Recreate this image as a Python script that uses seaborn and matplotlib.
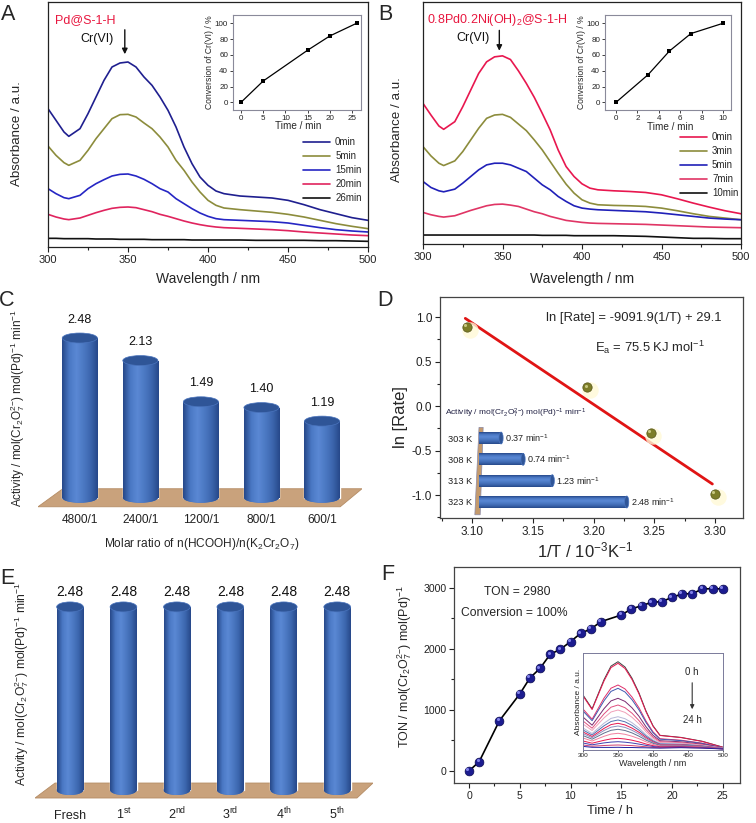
import numpy as np
import matplotlib
matplotlib.use('Agg')
import matplotlib.pyplot as plt
import seaborn as sns
from matplotlib.patches import Ellipse, Polygon
from matplotlib.colors import LinearSegmentedColormap
from matplotlib.ticker import MultipleLocator
from matplotlib.transforms import ScaledTranslation

# ---------------- data ----------------
# UV-vis spectra (A, B) sampled at these wavelengths
wl = [300, 305, 310, 313, 320, 325, 330, 335, 340, 345, 350, 355, 360, 365, 370, 375,
      380, 385, 390, 395, 400, 405, 410, 420, 430, 440, 450, 460, 470, 480, 490, 500]

a_names = ['0min', '5min', '15min', '20min', '26min']
a_colors = ['#1f1f8f', '#8c8c3c', '#2626c4', '#e0245e', '#111111']
a_0 = [4.15, 3.80, 3.45, 3.32, 3.55, 4.00, 4.50, 5.00, 5.40, 5.52, 5.55, 5.40, 5.10, 4.85, 4.50, 4.10,
       3.60, 3.00, 2.50, 2.10, 1.85, 1.68, 1.60, 1.53, 1.50, 1.47, 1.40, 1.27, 1.12, 1.00, 0.88, 0.80]
a_5 = [3.03, 2.75, 2.53, 2.45, 2.60, 2.90, 3.25, 3.55, 3.85, 3.97, 3.98, 3.90, 3.72, 3.55, 3.30, 3.00,
       2.60, 2.30, 1.95, 1.65, 1.40, 1.25, 1.17, 1.12, 1.08, 1.04, 0.98, 0.90, 0.80, 0.70, 0.62, 0.55]
a_15 = [1.75, 1.60, 1.48, 1.45, 1.55, 1.75, 1.90, 2.02, 2.13, 2.18, 2.19, 2.13, 2.03, 1.90, 1.75, 1.65,
        1.45, 1.30, 1.15, 1.02, 0.92, 0.85, 0.82, 0.80, 0.78, 0.76, 0.72, 0.65, 0.58, 0.52, 0.48, 0.45]
a_20 = [0.98, 0.90, 0.84, 0.82, 0.87, 0.95, 1.03, 1.10, 1.16, 1.19, 1.20, 1.18, 1.12, 1.06, 0.98, 0.92,
        0.85, 0.78, 0.72, 0.67, 0.63, 0.60, 0.58, 0.56, 0.54, 0.52, 0.49, 0.45, 0.42, 0.39, 0.36, 0.34]
a_26 = [0.26, 0.26, 0.25, 0.25, 0.25, 0.25, 0.24, 0.24, 0.24, 0.23, 0.23, 0.23, 0.23, 0.22, 0.22, 0.22,
        0.22, 0.22, 0.21, 0.21, 0.21, 0.21, 0.21, 0.21, 0.20, 0.20, 0.20, 0.20, 0.19, 0.19, 0.18, 0.17]
a_curves = [a_0, a_5, a_15, a_20, a_26]

b_names = ['0min', '3min', '5min', '7min', '10min']
b_colors = ['#e8174f', '#8c8c3c', '#2020b8', '#e03565', '#111111']
b_0 = [4.23, 3.88, 3.55, 3.45, 3.68, 4.13, 4.63, 5.13, 5.48, 5.63, 5.66, 5.55, 5.21, 4.83, 4.41, 3.93,
       3.43, 2.83, 2.33, 2.03, 1.81, 1.68, 1.63, 1.60, 1.58, 1.55, 1.48, 1.36, 1.23, 1.11, 1.00, 0.91]
b_3 = [2.93, 2.65, 2.43, 2.36, 2.50, 2.78, 3.13, 3.48, 3.78, 3.88, 3.90, 3.81, 3.61, 3.41, 3.13, 2.83,
       2.48, 2.13, 1.80, 1.53, 1.33, 1.23, 1.18, 1.16, 1.15, 1.13, 1.08, 1.00, 0.91, 0.83, 0.78, 0.73]
b_5 = [1.88, 1.70, 1.60, 1.57, 1.65, 1.83, 2.03, 2.23, 2.38, 2.43, 2.43, 2.38, 2.28, 2.18, 1.98, 1.78,
       1.63, 1.43, 1.28, 1.15, 1.08, 1.05, 1.03, 1.01, 0.99, 0.97, 0.93, 0.88, 0.83, 0.78, 0.75, 0.73]
b_7 = [0.95, 0.88, 0.83, 0.81, 0.85, 0.93, 1.01, 1.08, 1.15, 1.19, 1.20, 1.17, 1.13, 1.05, 0.97, 0.91,
       0.83, 0.77, 0.71, 0.68, 0.65, 0.63, 0.62, 0.61, 0.60, 0.59, 0.57, 0.55, 0.53, 0.51, 0.50, 0.49]
b_10 = [0.27, 0.27, 0.27, 0.27, 0.27, 0.27, 0.27, 0.27, 0.27, 0.27, 0.27, 0.27, 0.27, 0.27, 0.27, 0.26,
        0.26, 0.26, 0.26, 0.25, 0.25, 0.25, 0.25, 0.25, 0.24, 0.23, 0.21, 0.19, 0.17, 0.17, 0.16, 0.16]
b_curves = [b_0, b_3, b_5, b_7, b_10]

# conversion insets
insA_t = [0, 5, 15, 20, 26]
insA_c = [0, 27, 66, 84, 100]
insB_t = [0, 3, 5, 7, 10]
insB_c = [0, 35, 65, 87, 100]

# C: activity vs molar ratio
ratio_labels = ['4800/1', '2400/1', '1200/1', '800/1', '600/1']
ratio_vals = [2.48, 2.13, 1.49, 1.40, 1.19]

# D: Arrhenius plot
inv_T = [3.096, 3.195, 3.247, 3.300]
ln_rate = [0.89, 0.21, -0.30, -0.99]
fit_x = [3.0945, 3.2978]
fit_y = [0.985, -0.876]
temp_labels = ['303 K', '308 K', '313 K', '323 K']
temp_rates = [0.37, 0.74, 1.23, 2.48]

# E: recycling
cycle_labels = ['Fresh', '1$^{\\mathrm{st}}$', '2$^{\\mathrm{nd}}$', '3$^{\\mathrm{rd}}$',
                '4$^{\\mathrm{th}}$', '5$^{\\mathrm{th}}$']
cycle_vals = [2.48, 2.48, 2.48, 2.48, 2.48, 2.48]

# F: TON vs time
ton_t = [0, 1, 3, 5, 6, 7, 8, 9, 10, 11, 12, 13, 15, 16, 17, 18, 19, 20, 21, 22, 23, 24, 25]
ton_v = [0, 153, 825, 1262, 1525, 1683, 1913, 1995, 2120, 2257, 2328, 2448, 2557, 2656, 2710,
         2765, 2776, 2847, 2902, 2907, 2984, 2989, 2984]

# F inset spectra (0 h -> 24 h)
fi_wl = [300, 313, 330, 340, 350, 360, 370, 380, 390, 400, 410, 440, 470, 500]
fi_curves = [
    [5.50, 4.12, 7.03, 8.39, 8.83, 8.30, 7.18, 5.71, 3.90, 2.43, 1.47, 1.26, 0.88, 0.28],
    [5.40, 4.05, 6.90, 8.24, 8.67, 8.15, 7.05, 5.61, 3.83, 2.38, 1.45, 1.24, 0.86, 0.27],
    [4.10, 3.08, 5.19, 6.18, 6.50, 6.11, 5.30, 4.22, 2.90, 1.82, 1.13, 0.98, 0.69, 0.23],
    [3.90, 2.93, 4.92, 5.86, 6.17, 5.80, 5.03, 4.01, 2.75, 1.73, 1.08, 0.94, 0.66, 0.22],
    [3.30, 2.48, 4.13, 4.91, 5.17, 4.86, 4.22, 3.37, 2.32, 1.47, 0.93, 0.82, 0.58, 0.20],
    [2.90, 2.18, 3.61, 4.28, 4.50, 4.23, 3.68, 2.94, 2.04, 1.30, 0.83, 0.74, 0.53, 0.19],
    [2.60, 1.95, 3.21, 3.80, 4.00, 3.76, 3.27, 2.62, 1.82, 1.17, 0.75, 0.68, 0.49, 0.18],
    [2.20, 1.65, 2.68, 3.16, 3.33, 3.13, 2.73, 2.19, 1.53, 1.00, 0.65, 0.60, 0.44, 0.17],
    [2.00, 1.50, 2.42, 2.85, 3.00, 2.82, 2.46, 1.98, 1.39, 0.91, 0.60, 0.56, 0.41, 0.16],
    [1.80, 1.35, 2.16, 2.54, 2.67, 2.51, 2.19, 1.77, 1.25, 0.82, 0.55, 0.52, 0.38, 0.15],
    [1.64, 1.23, 1.95, 2.28, 2.40, 2.26, 1.97, 1.60, 1.13, 0.75, 0.51, 0.49, 0.36, 0.15],
    [1.44, 1.08, 1.69, 1.97, 2.07, 1.95, 1.71, 1.38, 0.99, 0.67, 0.46, 0.45, 0.34, 0.14],
    [1.20, 0.90, 1.37, 1.59, 1.67, 1.57, 1.38, 1.13, 0.82, 0.56, 0.40, 0.40, 0.30, 0.13],
    [0.90, 0.68, 0.97, 1.11, 1.17, 1.10, 0.98, 0.81, 0.60, 0.43, 0.33, 0.34, 0.26, 0.12],
    [0.70, 0.52, 0.71, 0.79, 0.83, 0.78, 0.70, 0.59, 0.46, 0.35, 0.27, 0.30, 0.24, 0.12],
    [0.50, 0.38, 0.45, 0.48, 0.50, 0.47, 0.44, 0.38, 0.32, 0.26, 0.23, 0.26, 0.21, 0.11],
    [0.36, 0.27, 0.26, 0.26, 0.27, 0.25, 0.25, 0.23, 0.22, 0.20, 0.19, 0.23, 0.19, 0.10],
]
fi_colors = ['#404040', '#e8174f', '#e0306a', '#4058b0', '#7a2a70', '#e05080', '#f0a0b8',
             '#b8b8d8', '#5070b0', '#e8174f', '#9090c0', '#607090', '#f080a0', '#e8174f',
             '#4040b0', '#d04070', '#2020a0']

# ---------------- style ----------------
sns.set_theme(style='ticks')
plt.rcParams['font.family'] = ['Liberation Sans', 'DejaVu Sans']
plt.rcParams['mathtext.fontset'] = 'custom'
plt.rcParams['mathtext.rm'] = 'Liberation Sans'
plt.rcParams['mathtext.it'] = 'Liberation Sans:italic'
plt.rcParams['mathtext.bf'] = 'Liberation Sans:bold'
plt.rcParams['axes.unicode_minus'] = False
plt.rcParams['axes.edgecolor'] = '#222222'
plt.rcParams['axes.linewidth'] = 0.9
plt.rcParams['xtick.color'] = '#222222'
plt.rcParams['ytick.color'] = '#222222'

ACT = 'Activity / mol(Cr$_2$O$_7^{2{-}}$) mol(Pd)$^{-1}$ min$^{-1}$'

fig = plt.figure(figsize=(7.56, 8.23), dpi=100)


def frac(l, t, r, b):
    # pixel box -> figure fraction
    return [l / 756, 1 - b / 823, (r - l) / 756, (b - t) / 823]


cyl_cmap = LinearSegmentedColormap.from_list(
    'cyl', ['#27498a', '#4a78c4', '#5a88d4', '#4c79c3', '#3c66ae', '#27498a'])
grad = np.linspace(0, 1, 64).reshape(1, -1)


def cylinders(ax, bars, cap, horizontal=False):
    for bar in bars:
        if horizontal:
            y0, h, v = bar.get_y(), bar.get_height(), bar.get_width()
            im = ax.imshow(grad.T, extent=(0, v, y0 + h, y0), cmap=cyl_cmap, aspect='auto', zorder=2)
            im.set_clip_path(bar)
            ax.add_patch(Ellipse((v, y0 + h / 2), cap, h, facecolor='#2f5597',
                                 edgecolor='#4a74bd', lw=0.5, zorder=3))
        else:
            x0, w, v = bar.get_x(), bar.get_width(), bar.get_height()
            cx = x0 + w / 2
            bottom = Ellipse((cx, 0), w, cap, facecolor='#4672bc', edgecolor='none', zorder=1.5)
            ax.add_patch(bottom)
            for clip in (bar, bottom):
                im = ax.imshow(grad, extent=(x0, x0 + w, -cap / 2, v), cmap=cyl_cmap,
                               aspect='auto', zorder=2)
                im.set_clip_path(clip)
            ax.add_patch(Ellipse((cx, v), w, cap, facecolor='#2f5597',
                                 edgecolor='#4a74bd', lw=0.5, zorder=3))


def spectra(ax, curves, names, colors, ytop):
    for vals, name, c in zip(curves, names, colors):
        sns.lineplot(x=wl, y=vals, color=c, lw=1.2, label=name, ax=ax)
    ax.set_xlim(300, 500)
    ax.set_ylim(0, ytop)
    ax.set_yticks([])
    ax.xaxis.set_major_locator(MultipleLocator(50))
    ax.xaxis.set_minor_locator(MultipleLocator(25))
    ax.tick_params(axis='x', which='major', length=3.5, width=0.8, labelsize=8, pad=2)
    ax.tick_params(axis='x', which='minor', length=2, width=0.8)
    ax.set_xlabel('Wavelength / nm', fontsize=10)
    ax.set_ylabel('Absorbance / a.u.', fontsize=9.6)


def conv_inset(ax, t, c, xlim, step):
    sns.lineplot(x=t, y=c, color='black', lw=0.9, marker='s', markersize=3,
                 markeredgewidth=0, ax=ax)
    ax.set_xlim(*xlim)
    ax.set_ylim(-9.7, 110.5)
    ax.xaxis.set_major_locator(MultipleLocator(step))
    ax.yaxis.set_major_locator(MultipleLocator(20))
    ax.tick_params(labelsize=5.8, length=2, width=0.6, pad=1.5)
    for s in ax.spines.values():
        s.set_color('#8a8a9a')
        s.set_linewidth(0.8)
    ax.set_xlabel('Time / min', fontsize=7.2, labelpad=0)
    ax.set_ylabel('Conversion of Cr(VI) / %', fontsize=6.2, labelpad=1)


# ---------------- A ----------------
axA = fig.add_axes(frac(48, 2, 368, 247))
spectra(axA, a_curves, a_names, a_colors, 7.35)
axA.legend(loc='upper left', bbox_to_anchor=(0.797, 0.449), frameon=False, fontsize=7,
           handlelength=2.8, handletextpad=0.5, labelspacing=0.42, borderpad=0, borderaxespad=0)
axA.yaxis.set_label_coords(-0.078, 0.465)
axA.xaxis.set_label_coords(0.5, -0.10)
axA.text(323, 6.8, 'Pd@S-1-H', color='#e8173f', fontsize=9, ha='center', va='center')
axA.text(341, 6.25, 'Cr(VI)', color='#111111', fontsize=9, ha='right', va='center')
axA.annotate('', xy=(348, 5.7), xytext=(348, 6.6),
             arrowprops=dict(arrowstyle='-|>', color='#111111', lw=1, mutation_scale=8))

insA = fig.add_axes(frac(233, 15, 361, 110))
conv_inset(insA, insA_t, insA_c, (-1.8, 27), 5)
insA.xaxis.set_label_coords(0.51, -0.12)

# ---------------- B ----------------
axB = fig.add_axes(frac(423, 2, 741, 244))
spectra(axB, b_curves, b_names, b_colors, 7.28)
axB.legend(loc='upper left', bbox_to_anchor=(0.808, 0.463), frameon=False, fontsize=7,
           handlelength=2.8, handletextpad=0.5, labelspacing=0.42, borderpad=0, borderaxespad=0)
axB.yaxis.set_label_coords(-0.063, 0.471)
axB.xaxis.set_label_coords(0.5, -0.115)
axB.text(346.5, 6.73, '0.8Pd0.2Ni(OH)$_2$@S-1-H', color='#e8173f', fontsize=9,
         ha='center', va='center')
axB.text(342, 6.2, 'Cr(VI)', color='#111111', fontsize=9, ha='right', va='center')
axB.annotate('', xy=(348, 5.73), xytext=(348, 6.51),
             arrowprops=dict(arrowstyle='-|>', color='#111111', lw=1, mutation_scale=8))

insB = fig.add_axes(frac(605, 15, 731, 110))
conv_inset(insB, insB_t, insB_c, (-1.03, 10.75), 2)
insB.xaxis.set_label_coords(0.52, -0.13)

# ---------------- C ----------------
axC = fig.add_axes(frac(38, 300, 362, 510))
axC.patch.set_alpha(0)
sns.barplot(x=ratio_labels, y=ratio_vals, color='#4672bc', width=0.58, saturation=1, ax=axC)
barsC = list(axC.patches)
axC.add_patch(Polygon([(-0.28, 0.14), (4.66, 0.14), (4.30, -0.14), (-0.69, -0.14)],
                      closed=True, facecolor='#c9a27c', edgecolor='#b58c64', lw=0.6, zorder=0.5))
cylinders(axC, barsC, 0.155)
axC.bar_label(axC.containers[0], fmt='%.2f', padding=9, fontsize=9, color='#111111')
axC.set_xlim(-0.69, 4.66)
axC.set_ylim(-0.19, 3.07)
axC.set_yticks([])
sns.despine(ax=axC, left=True, bottom=True)
axC.tick_params(axis='x', length=0, labelsize=8.6, pad=3)
axC.set_xlabel('Molar ratio of n(HCOOH)/n(K$_2$Cr$_2$O$_7$)', fontsize=8.6)
axC.set_ylabel(ACT, fontsize=8.5)
axC.yaxis.set_label_coords(-0.034, 0.486)
axC.xaxis.set_label_coords(0.506, -0.124)

# ---------------- D ----------------
axD = fig.add_axes(frac(440, 297, 743, 518))
sns.lineplot(x=fit_x, y=fit_y, color='#e01414', lw=2, ax=axD)
halo = axD.transData + ScaledTranslation(2 / 72, -2 / 72, fig.dpi_scale_trans)
sns.scatterplot(x=inv_T, y=ln_rate, s=140, color='#fff9d6', alpha=0.8, lw=0,
                transform=halo, zorder=2, ax=axD)
sns.scatterplot(x=inv_T, y=ln_rate, s=45, color='#7d7d28', edgecolor='#55551a',
                lw=0.5, zorder=3, ax=axD)
hl = axD.transData + ScaledTranslation(-1.2 / 72, 1.2 / 72, fig.dpi_scale_trans)
axD.scatter(inv_T, ln_rate, s=5, color='#c8c880', lw=0, transform=hl, zorder=4)
axD.set_xlim(3.0737, 3.323)
axD.set_ylim(-1.258, 1.225)
axD.xaxis.set_major_locator(MultipleLocator(0.05))
axD.xaxis.set_minor_locator(MultipleLocator(0.025))
axD.yaxis.set_major_locator(MultipleLocator(0.5))
axD.yaxis.set_minor_locator(MultipleLocator(0.25))
axD.tick_params(which='major', length=3.5, width=0.8, labelsize=8.5, pad=2)
axD.tick_params(which='minor', length=2, width=0.8)
for s in axD.spines.values():
    s.set_color('#444444')
axD.set_xlabel('1/T / 10$^{-3}$K$^{-1}$', fontsize=12)
axD.set_ylabel('ln [Rate]', fontsize=12)
axD.yaxis.set_label_coords(-0.106, 0.457)
axD.xaxis.set_label_coords(0.478, -0.10)
axD.text(0.35, 0.905, 'ln [Rate] = -9091.9(1/T) + 29.1', transform=axD.transAxes,
         fontsize=9.4, va='center')
axD.text(0.512, 0.77, 'E$_\\mathrm{a}$ = 75.5 KJ mol$^{-1}$', transform=axD.transAxes,
         fontsize=9.4, va='center')
axD.text(0.017, 0.475, ACT, transform=axD.transAxes, fontsize=6, va='center', color='#222244')

axDi = fig.add_axes(frac(479, 425, 700, 515))
axDi.patch.set_alpha(0)
sns.barplot(x=temp_rates, y=temp_labels, orient='h', color='#4672bc', width=0.56,
            saturation=1, ax=axDi)
barsD = list(axDi.patches)
cylinders(axDi, barsD, 0.07, horizontal=True)
axDi.add_patch(Polygon([(0.0, -0.5), (0.07, -0.5), (0.02, 3.6), (-0.07, 3.6)], closed=True,
                       facecolor='#c49a6c', edgecolor='#8a8aa8', lw=0.5, zorder=1.2,
                       clip_on=False))
axDi.bar_label(axDi.containers[0], labels=[f'{v:.2f} min$^{{-1}}$' for v in temp_rates],
               padding=3, fontsize=6.5, color='#222222')
axDi.set_xlim(0, 3.71)
axDi.set_ylim(3.61, -0.61)
axDi.set_xticks([])
axDi.set_xlabel('')
axDi.set_ylabel('')
sns.despine(ax=axDi, left=True, bottom=True)
axDi.tick_params(axis='y', length=0, labelsize=6.7, pad=5)

# ---------------- E ----------------
axE = fig.add_axes(frac(35, 570, 373, 800))
axE.patch.set_alpha(0)
sns.barplot(x=list(range(len(cycle_vals))), y=cycle_vals, color='#4672bc', width=0.5,
            saturation=1, ax=axE)
barsE = list(axE.patches)
axE.add_patch(Polygon([(-0.28, 0.095), (5.67, 0.095), (5.37, -0.108), (-0.655, -0.108)],
                      closed=True, facecolor='#c9a27c', edgecolor='#b58c64', lw=0.6, zorder=0.5))
cylinders(axE, barsE, 0.135)
axE.bar_label(axE.containers[0], fmt='%.2f', padding=6, fontsize=10, color='#111111')
axE.set_xlim(-0.655, 5.67)
axE.set_ylim(-0.135, 2.98)
axE.set_yticks([])
axE.set_xticks(range(len(cycle_labels)))
axE.set_xticklabels(cycle_labels, va='baseline')
sns.despine(ax=axE, left=True, bottom=True)
axE.tick_params(axis='x', length=0, labelsize=9, pad=14)
axE.set_xlabel('')
axE.set_ylabel(ACT, fontsize=8.7)
axE.yaxis.set_label_coords(-0.012, 0.505)

# ---------------- F ----------------
axF = fig.add_axes(frac(454, 567, 740, 783))
sns.lineplot(x=ton_t, y=ton_v, color='black', lw=1.2, ax=axF)
sns.scatterplot(x=ton_t, y=ton_v, s=40, color='#1c1c90', edgecolor='#0a0a50', lw=0.5,
                zorder=3, ax=axF)
hlF = axF.transData + ScaledTranslation(-1.2 / 72, 1.2 / 72, fig.dpi_scale_trans)
axF.scatter(ton_t, ton_v, s=5, color='#8080e8', lw=0, transform=hlF, zorder=4)
axF.set_xlim(-1.48, 26.7)
axF.set_ylim(-197, 3344)
axF.xaxis.set_major_locator(MultipleLocator(5))
axF.xaxis.set_minor_locator(MultipleLocator(2.5))
axF.yaxis.set_major_locator(MultipleLocator(1000))
axF.yaxis.set_minor_locator(MultipleLocator(500))
axF.tick_params(which='major', length=3.5, width=0.8, labelsize=7.6, pad=2)
axF.tick_params(which='minor', length=2, width=0.8)
for s in axF.spines.values():
    s.set_color('#444444')
axF.set_xlabel('Time / h', fontsize=9.3)
axF.set_ylabel('TON / mol(Cr$_2$O$_7^{2{-}}$) mol(Pd)$^{-1}$', fontsize=9)
axF.yaxis.set_label_coords(-0.14, 0.537)
axF.xaxis.set_label_coords(0.545, -0.102)
axF.text(0.105, 0.884, 'TON = 2980', transform=axF.transAxes, fontsize=8.7, va='center')
axF.text(0.0245, 0.787, 'Conversion = 100%', transform=axF.transAxes, fontsize=8.7,
         va='center')

axFi = fig.add_axes(frac(583, 653, 723, 750))
for vals, c in zip(fi_curves, fi_colors):
    sns.lineplot(x=fi_wl, y=vals, color=c, lw=0.7, ax=axFi)
axFi.set_xlim(300, 500)
axFi.set_ylim(0, 9.7)
axFi.set_yticks([])
axFi.xaxis.set_major_locator(MultipleLocator(50))
axFi.tick_params(axis='x', labelsize=4.6, length=1.5, width=0.5, pad=1)
for s in axFi.spines.values():
    s.set_color('#7a7a9a')
    s.set_linewidth(0.7)
axFi.set_xlabel('Wavelength / nm', fontsize=6.5, labelpad=0.5)
axFi.set_ylabel('Absorbance / a.u.', fontsize=6, labelpad=1)
axFi.text(456, 7.8, '0 h', fontsize=7, ha='center', va='center')
axFi.text(456, 3.0, '24 h', fontsize=7, ha='center', va='center')
axFi.annotate('', xy=(456, 3.8), xytext=(456, 7.0),
              arrowprops=dict(arrowstyle='-|>', color='#333333', lw=0.8, mutation_scale=6))

# ---------------- panel letters ----------------
for letter, x, y in [('A', 8, 15), ('B', 385, 15), ('C', 7, 300), ('D', 385, 300),
                     ('E', 7, 578), ('F', 388, 575)]:
    fig.text(x / 756, 1 - y / 823, letter, fontsize=15.5, ha='center', va='center')

fig.savefig('out.png', dpi=100)
